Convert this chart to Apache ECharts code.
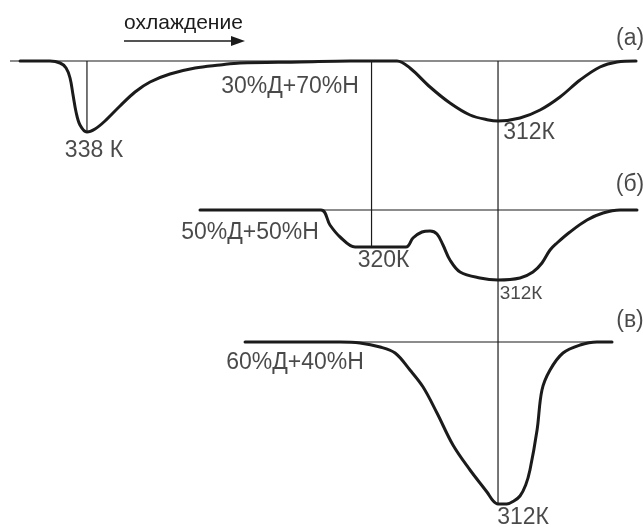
<!DOCTYPE html>
<html>
<head>
<meta charset="utf-8">
<script src="https://cdn.jsdelivr.net/npm/echarts@6/dist/echarts.min.js"></script>
<style>
  html, body { margin: 0; padding: 0; background: #ffffff; }
  #chart { width: 643px; height: 527px; }
</style>
</head>
<body>
<div id="chart"></div>
<script>
// DSC cooling curves for three Д/Н mixtures, stacked with vertical offsets.
// x: temperature, K (cooling runs left to right); y: heat flow, arb. units.

const compositions = ['30%Д+70%Н', '50%Д+50%Н', '60%Д+40%Н'];
const panelLetters = ['(а)', '(б)', '(в)'];

// curve offsets (baseline levels) for each panel
const baselineLevels = [0, -149, -281];
// baseline extents [start T, end T]
const baselineSpans = [[342.87, 303.27], [330.85, 303.21], [328.00, 304.79]];

// (а) 30%Д+70%Н
const curveA = [
  [342.23, 0], [340.34, 0], [339.70, -2], [339.32, -7], [339.07, -17],
  [338.88, -34], [338.69, -51], [338.44, -64], [338.00, -71], [337.49, -68],
  [336.86, -60], [335.91, -45], [334.96, -31], [334.01, -21], [332.75, -13],
  [331.16, -7], [329.58, -4], [328.32, -2], [324.52, -1], [321.36, 0],
  [318.39, 0], [317.57, -7], [316.30, -26], [315.04, -42], [313.77, -54],
  [312.60, -59], [312.00, -60], [310.61, -57], [309.34, -49], [308.08, -36],
  [306.81, -19], [305.55, -6], [304.47, -1], [303.27, 0]
];

// (б) 50%Д+50%Н
const curveB = [
  [330.85, -149], [323.20, -149], [322.63, -164], [321.99, -176], [321.04, -186],
  [317.82, -186], [317.38, -177], [316.81, -171], [316.30, -170], [315.86, -173],
  [315.48, -184], [315.04, -199], [314.40, -211], [313.14, -217], [312.00, -219],
  [310.61, -217], [309.79, -211], [309.22, -202], [308.71, -189], [308.27, -182],
  [307.45, -171], [306.37, -159], [305.36, -152], [304.28, -149], [303.21, -149]
];

// (в) 60%Д+40%Н
const curveC = [
  [328.00, -281], [321.99, -281], [320.73, -282], [319.46, -286], [318.51, -292],
  [317.57, -309], [316.74, -326], [315.86, -352], [314.85, -384], [313.77, -409],
  [312.70, -431], [312.30, -440], [312.00, -443], [311.45, -443], [311.00, -440],
  [310.61, -435], [310.25, -424], [309.98, -409],
  [309.53, -369], [309.22, -329], [308.71, -309], [307.89, -292], [306.81, -284],
  [305.74, -281], [304.79, -281]
];

// peak temperatures and their depths
const peakLabels = ['338 К', '312К', '320К', '312К', '312К'];
const peakTemps  = [338, 312, 320, 312, 312];
const peakDepths = [-71, -60, -186, -219, -443];

// marker lines drop from the top baseline to these peaks
const markerPeaks = [0, 2, 4];

const INK = '#1b1b1b';
const FONT = '"Liberation Sans", Arial, sans-serif';

const chart = echarts.init(document.getElementById('chart'), null, { renderer: 'canvas' });

const thin = { color: INK, width: 1.2 };
const thick = { color: INK, width: 3 };

const series = [];

// thin baselines
baselineLevels.forEach((lvl, i) => {
  series.push({
    type: 'line', silent: true, showSymbol: false, animation: false,
    lineStyle: thin,
    data: [[baselineSpans[i][0], lvl], [baselineSpans[i][1], lvl]]
  });
});

// thin vertical markers at peak temperatures
markerPeaks.forEach(k => {
  series.push({
    type: 'line', silent: true, showSymbol: false, animation: false,
    lineStyle: thin,
    data: [[peakTemps[k], baselineLevels[0]], [peakTemps[k], peakDepths[k]]]
  });
});

// thick DSC curves
[curveA, curveB, curveC].forEach(c => {
  series.push({
    type: 'line', silent: true, showSymbol: false, animation: false,
    smooth: 0.35,
    lineStyle: Object.assign({ join: 'round', cap: 'round' }, thick),
    data: c
  });
});

// peak temperature labels
const peakOffsets = [[7, 19], [31, 12], [12, 14], [23, 14], [25, 14]];
const peakSizes = [23, 23, 23, 19, 23];
series.push({
  type: 'scatter', silent: true, symbolSize: 0, animation: false,
  data: peakTemps.map((t, i) => ({
    value: [t, peakDepths[i]],
    label: {
      show: true, position: 'inside', formatter: peakLabels[i],
      offset: peakOffsets[i], fontSize: peakSizes[i]
    }
  })),
  label: { color: INK, fontFamily: FONT, align: 'center', verticalAlign: 'middle' }
});

// composition names, anchored at curve starts
const nameOffsets = [[270, 26], [50, 23], [50, 21]];
const curveStarts = [curveA[0], curveB[0], curveC[0]];
series.push({
  type: 'scatter', silent: true, symbolSize: 0, animation: false,
  data: compositions.map((n, i) => ({
    value: [curveStarts[i][0], baselineLevels[i]],
    label: { show: true, position: 'inside', formatter: n, offset: nameOffsets[i] }
  })),
  label: { color: INK, fontFamily: FONT, fontSize: 23, align: 'center', verticalAlign: 'middle' }
});

// panel letters, anchored at baseline ends
const letterOffsets = [[-6, -22], [-7, -25], [18, -21]];
series.push({
  type: 'scatter', silent: true, symbolSize: 0, animation: false,
  data: panelLetters.map((n, i) => ({
    value: [baselineSpans[i][1], baselineLevels[i]],
    label: { show: true, position: 'inside', formatter: n, offset: letterOffsets[i] }
  })),
  label: { color: INK, fontFamily: FONT, fontSize: 23, align: 'center', verticalAlign: 'middle' }
});

chart.setOption({
  backgroundColor: '#ffffff',
  animation: false,
  grid: { left: 0, right: 0, top: 0, bottom: 0 },
  xAxis: { type: 'value', min: 302.83, max: 343.50, inverse: true, show: false },
  yAxis: { type: 'value', min: -466, max: 61, show: false },
  series: series,
  graphic: [
    // cooling direction arrow
    { type: 'text', left: 124, top: 13,
      style: { text: 'охлаждение', fill: INK, font: '21px ' + FONT } },
    { type: 'line', shape: { x1: 124, y1: 41, x2: 234, y2: 41 },
      style: { stroke: INK, lineWidth: 1.5 } },
    { type: 'polygon', shape: { points: [[245, 41], [231, 36], [231, 46]] },
      style: { fill: INK } }
  ]
});
</script>
</body>
</html>
